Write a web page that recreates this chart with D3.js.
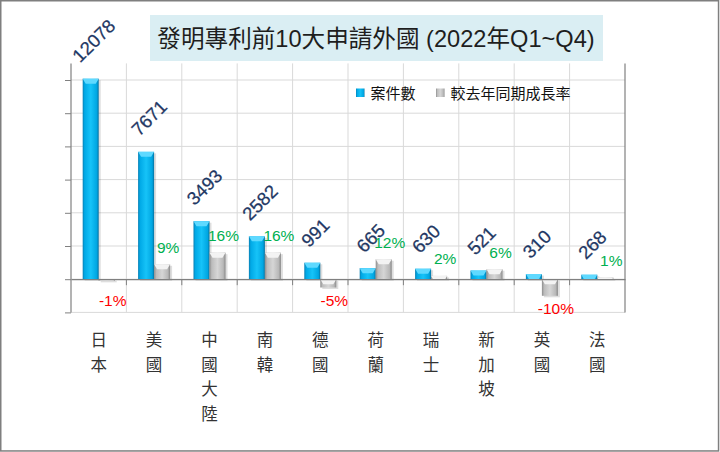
<!DOCTYPE html>
<html>
<head>
<meta charset="utf-8">
<script src="https://cdn.jsdelivr.net/npm/d3@7"></script>
<style>
  html, body { margin: 0; padding: 0; background: #fff; }
  svg { display: block; }
</style>
</head>
<body>
<svg id="chart" width="720" height="452"></svg>
<script>
// ---- data ----
const categories = ["日本", "美國", "中國大陸", "南韓", "德國", "荷蘭", "瑞士", "新加坡", "英國", "法國"];
const caseCounts = [12078, 7671, 3493, 2582, 991, 665, 630, 521, 310, 268];
const growthRates = [-1, 9, 16, 16, -5, 12, 2, 6, -10, 1];
const countTicks = [-2000, 0, 2000, 4000, 6000, 8000, 10000, 12000];
const legendLabels = ["案件數", "較去年同期成長率"];
const titleText = "發明專利前10大申請外國 (2022年Q1~Q4)";

// ---- layout ----
const W = 720, H = 452;
const plot = { left: 71, right: 625, top: 63.4, bottom: 312.4 };
const latin = "'Liberation Sans', Arial, 'Noto Sans CJK TC', sans-serif";
const cjk = "'Noto Sans CJK TC', 'Noto Sans CJK SC', sans-serif";

const svg = d3.select("#chart");

// outer border
svg.append("rect").attr("x", 0.75).attr("y", 0.75).attr("width", W - 2.2).attr("height", H - 1.8)
  .attr("fill", "#fff").attr("stroke", "#7f7f7f").attr("stroke-width", 1.5);

// gradients
const defs = svg.append("defs");
function grad(id, stops) {
  const g = defs.append("linearGradient").attr("id", id).attr("x1", "0").attr("x2", "1").attr("y1", "0").attr("y2", "0");
  stops.forEach(s => g.append("stop").attr("offset", s[0]).attr("stop-color", s[1]));
}
grad("blueGrad", [[0, "#0a7fb3"], [0.12, "#00a9e6"], [0.5, "#16c3f8"], [0.88, "#00a6e2"], [1, "#06719f"]]);
grad("greyGrad", [[0, "#8c8c8c"], [0.14, "#bcbcbc"], [0.5, "#d6d6d6"], [0.86, "#b8b8b8"], [1, "#878787"]]);

// scales
const x = d3.scaleBand().domain(categories).range([plot.left, plot.right]).padding(0);
const bw = x.bandwidth();
const x1 = d3.scaleBand().domain(["count", "rate"]).range([0, bw]).paddingInner(0).paddingOuter(0.73);
const yCount = d3.scaleLinear().domain([-2000, 13000]).range([plot.bottom, plot.top]);
const yRate = d3.scaleLinear().domain([-20, 130]).range([plot.bottom, plot.top]);

// gridlines
const grid = svg.append("g");
grid.selectAll("line.h").data(countTicks).enter().append("line")
  .attr("x1", plot.left).attr("x2", plot.right)
  .attr("y1", d => yCount(d)).attr("y2", d => yCount(d))
  .attr("stroke", "#d9d9d9").attr("stroke-width", 1);
grid.selectAll("line.v").data(categories.slice(1)).enter().append("line")
  .attr("x1", d => x(d)).attr("x2", d => x(d))
  .attr("y1", plot.top).attr("y2", plot.bottom)
  .attr("stroke", "#d9d9d9").attr("stroke-width", 1);

// left axis
const leftAxis = d3.axisLeft(yCount).tickValues(countTicks).tickSize(6).tickFormat("");
const gL = svg.append("g").attr("transform", `translate(${plot.left},0)`).call(leftAxis);
gL.select(".domain").remove();
gL.selectAll(".tick line").attr("stroke", "#808080");
svg.append("line").attr("x1", plot.left).attr("x2", plot.left).attr("y1", plot.top).attr("y2", plot.bottom)
  .attr("stroke", "#808080").attr("stroke-width", 1.2);
// right (secondary) axis line
svg.append("line").attr("x1", plot.right).attr("x2", plot.right).attr("y1", plot.top).attr("y2", plot.bottom)
  .attr("stroke", "#808080").attr("stroke-width", 1.2);

// title box
svg.append("rect").attr("x", 150).attr("y", 15).attr("width", 453).attr("height", 46).attr("fill", "#daeef3");
svg.append("text").attr("x", 376).attr("y", 39).attr("text-anchor", "middle").attr("dominant-baseline", "central")
  .attr("font-family", latin).attr("font-size", 23.6).attr("fill", "#1e1e1e").text(titleText);

// bars
const data = categories.map((c, i) => ({ c, n: caseCounts[i], r: growthRates[i] }));
const gBars = svg.append("g");

function drawBar(g, bx, y0, y1, w, fillId, capColor) {
  const top = Math.min(y0, y1), h = Math.abs(y1 - y0);
  g.append("rect").attr("x", bx + 2).attr("y", top + 1.5).attr("width", w).attr("height", h)
    .attr("fill", "#000").attr("opacity", 0.13);
  g.append("rect").attr("x", bx).attr("y", top).attr("width", w).attr("height", h)
    .attr("fill", `url(#${fillId})`);
  const ch = Math.min(5, h);
  const inset = Math.min(3, ch * 0.6);
  g.append("polygon")
    .attr("points", [[bx, top], [bx + w, top], [bx + w - inset, top + ch], [bx + inset, top + ch]].map(p => p.join(",")).join(" "))
    .attr("fill", capColor);
}

data.forEach(d => {
  const bxC = x(d.c) + x1("count");
  drawBar(gBars, bxC, yCount(0), yCount(d.n), x1.bandwidth(), "blueGrad", "#5fd9ff");
  const bxR = x(d.c) + x1("rate");
  drawBar(gBars, bxR, yRate(0), yRate(d.r), x1.bandwidth(), "greyGrad", "#f3f3f3");
});

// x axis
const xAxis = d3.axisBottom(x).tickSize(0).tickFormat("");
const gX = svg.append("g").attr("transform", `translate(0,${yCount(0)})`).call(xAxis);
gX.select(".domain").attr("stroke", "#808080").attr("stroke-width", 1.2);
svg.append("g").selectAll("line").data(categories.slice(1)).enter().append("line")
  .attr("x1", d => x(d)).attr("x2", d => x(d))
  .attr("y1", yCount(0)).attr("y2", yCount(0) + 6)
  .attr("stroke", "#808080").attr("stroke-width", 1);

// count labels (rotated)
svg.append("g").selectAll("text").data(data).enter().append("text")
  .attr("transform", d => {
    const cx = x(d.c) + x1("count") + x1.bandwidth() / 2 + 3;
    const cy = yCount(d.n) - (18 + 4 * String(d.n).length);
    return `translate(${cx},${cy}) rotate(-45)`;
  })
  .attr("text-anchor", "middle").attr("dominant-baseline", "central")
  .attr("font-family", latin).attr("font-size", 18.5).attr("fill", "#1f3864")
  .attr("stroke", "#1f3864").attr("stroke-width", 0.25)
  .text(d => d.n);

// rate labels
svg.append("g").selectAll("text").data(data).enter().append("text")
  .attr("x", d => x(d.c) + x1("rate") + x1.bandwidth() / 2 + 6)
  .attr("y", d => d.r >= 0 ? yRate(d.r) - 17 : Math.max(yRate(d.r) + 13, yRate(0) + 21))
  .attr("text-anchor", "middle").attr("dominant-baseline", "central")
  .attr("font-family", latin).attr("font-size", 15.5)
  .attr("fill", d => d.r >= 0 ? "#00b050" : "#ff0000")
  .text(d => d.r + "%");

// category labels (vertical, stacked chars)
const gCat = svg.append("g");
categories.forEach(c => {
  const chars = Array.from(c);
  chars.forEach((ch, j) => {
    gCat.append("text").attr("x", x(c) + bw / 2).attr("y", 339 + j * 24.5)
      .attr("text-anchor", "middle").attr("dominant-baseline", "central")
      .attr("font-family", cjk).attr("font-size", 16.5).attr("fill", "#333")
      .text(ch);
  });
});

// legend
const gLeg = svg.append("g").attr("font-family", cjk).attr("font-size", 15);
let lx = 356;
const legFills = ["url(#blueGrad)", "url(#greyGrad)"];
legendLabels.forEach((lab, i) => {
  gLeg.append("rect").attr("x", lx).attr("y", 88.5).attr("width", 8.5).attr("height", 8.5).attr("fill", legFills[i]);
  const t = gLeg.append("text").attr("x", lx + 14.5).attr("y", 92.5).attr("dominant-baseline", "central")
    .attr("fill", "#111").text(lab);
  lx = lx + 14.5 + t.node().getComputedTextLength() + 20.5;
});
</script>
</body>
</html>
